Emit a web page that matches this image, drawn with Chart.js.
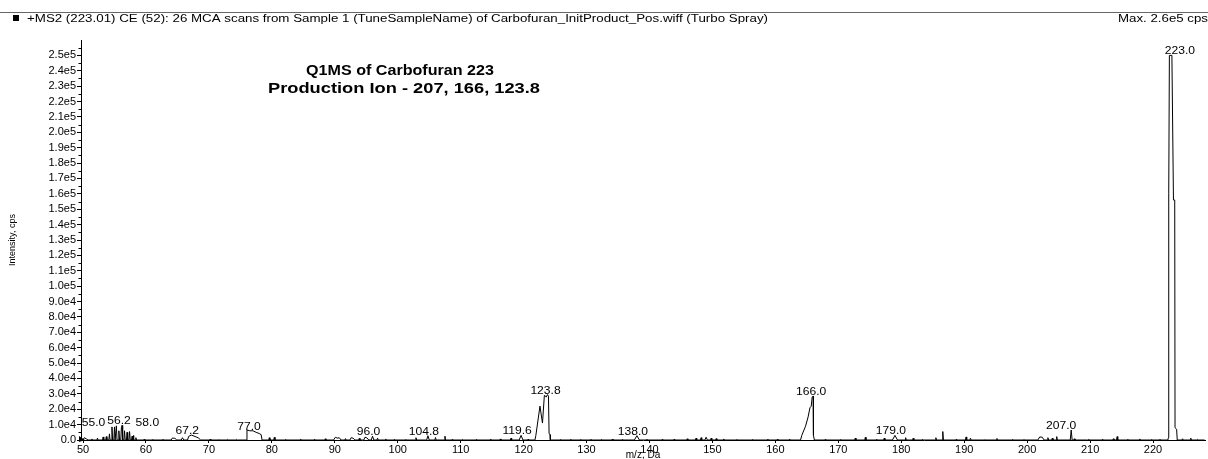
<!DOCTYPE html>
<html><head><meta charset="utf-8">
<script src="https://cdn.jsdelivr.net/npm/chart.js@4/dist/chart.umd.min.js"></script>
<style>html,body{margin:0;padding:0;background:#fff}#wrap{width:1208px;height:459px;position:relative;background:#fff}</style>
</head><body><div id="wrap"><canvas id="c" width="1208" height="459"></canvas></div>
<script>
// ---- data (m/z in Da, intensity in cps) ----
const mz = [
  50.0,50.2,50.5,50.8, 51.3,51.4,51.5, 52.2,52.3,52.4, 53.1,53.2,53.3, 53.6,53.7,53.8,
  54.1,54.2,54.3, 54.5,54.6,54.7, 54.9,55.0,55.1, 55.2,55.3,55.4, 55.6,55.7,55.8,
  56.0,56.1,56.2,56.3, 56.5,56.6,56.7, 56.9,57.0,57.1, 57.3,57.4,57.5, 57.7,57.8,57.9,
  57.95,58.0,58.1, 58.3,58.4,58.5,
  59.6,59.7,59.8, 61.0,61.1,61.2, 62.6,62.7,62.8, 64.0,64.2,64.6,64.9, 65.6,65.8,66.0,
  66.6,66.8,67.2,67.8,68.3,68.7, 70.1,70.2,70.3, 71.5,71.6,71.7, 72.9,73.0,73.1, 74.3,74.4,74.5,
  75.95,76.05,76.5,77.0,77.5,78.0,78.3,78.45, 79.5,79.6,79.7, 80.3,80.4,80.5,
  82.0,82.1,82.2, 84.4,84.5,84.6, 86.7,86.8,86.9, 88.4,88.5,88.6,
  89.8,90.1,90.4,90.7,91.0, 91.6,91.7,91.8, 92.4,92.6,92.9,93.2, 93.8,93.9,94.0,
  94.6,94.8,95.1,95.4, 95.8,96.0,96.2, 96.7,96.8,96.9, 98.0,98.1,98.2, 99.4,99.5,99.6,
  101.2,101.3,101.4, 102.8,102.9,103.0, 104.6,104.8,105.0, 105.9,106.0,106.1, 107.4,107.5,107.6,
  108.6,108.7,108.8, 110.2,110.3,110.4, 112.4,112.5,112.6, 114.6,114.7,114.8, 116.2,116.3,116.4,
  117.9,118.0,118.1, 119.3,119.6,119.9, 120.6,120.7,120.8,
  121.8,121.95,122.0,122.6,123.0,123.3,123.6,123.8,123.95,124.05,124.2,124.25,
  125.8,125.9,126.0, 127.4,127.5,127.6, 129.0,129.1,129.2, 130.6,130.7,130.8, 132.3,132.4,132.5,
  134.0,134.1,134.2, 135.6,135.7,135.8, 137.6,138.0,138.4, 139.5,139.6,139.7, 141.9,142.0,142.1,
  143.8,143.9,144.0, 145.9,146.0,146.1, 147.3,147.4,147.5, 148.1,148.2,148.3, 148.8,149.0,149.2,
  149.7,149.8,149.9, 150.5,150.6,150.7, 151.7,151.8,151.9, 153.8,153.9,154.0, 156.3,156.4,156.5,
  158.7,158.8,158.9, 160.2,160.3,160.4, 162.1,162.2,162.3,
  164.0,164.2,164.8,165.2,165.5,165.7,165.85,166.0,166.05,166.2,
  167.8,167.9,168.0, 170.3,170.4,170.5, 172.6,172.7,172.8, 174.2,174.3,174.4, 176.0,176.1,176.2,
  177.2,177.3,177.4, 178.6,179.0,179.4, 180.6,180.7,180.8, 181.8,181.9,182.0, 183.3,183.4,183.5,
  185.4,185.5,185.6, 186.5,186.6,186.7, 188.6,188.7,188.8, 190.2,190.3,190.4, 190.9,191.0,191.1,
  193.2,193.3,193.4, 195.1,195.2,195.3, 197.5,197.6,197.7, 199.4,199.5,199.6,
  201.7,202.0,202.4,202.7, 203.2,203.3,203.4, 203.9,204.0,204.1, 204.6,204.7,204.8,
  206.85,207.0,207.15, 207.4,207.5,207.6, 209.6,209.7,209.8, 211.8,211.9,212.0,
  213.6,213.7,213.8, 214.2,214.3,214.4, 215.9,216.0,216.1, 217.8,217.9,218.0, 219.7,219.8,219.9,
  221.0,221.1,221.2,
  222.35,222.45,222.5,222.6,223.0,223.25,223.45,223.5,223.75,223.85,
  224.6,224.7,224.8, 225.9,226.0,226.1, 227.0,227.1,227.2, 228.2
];
const intensity = [
  0,1500,800,0, 0,700,0, 0,1200,0, 0,2000,0, 0,2200,0,
  0,4000,0, 0,8500,0, 0,8500,0, 0,9200,0, 0,6000,0,
  0,8000,9500,0, 0,6000,0, 0,5000,0, 0,5500,0, 0,2500,0,
  0,3000,0, 0,1500,0,
  0,500,0, 0,400,0, 0,500,0, 0,1300,1100,0, 0,1500,0,
  0,2400,3200,2300,1400,0, 0,600,0, 0,300,0, 0,400,0, 0,400,0,
  0,6500,6000,6000,5000,4200,3500,0, 0,1500,0, 0,1800,0,
  0,300,0, 0,400,0, 0,500,0, 0,800,0,
  0,1800,1200,1500,0, 0,900,0, 0,1500,1200,0, 0,1100,0,
  0,1800,1400,0, 0,2500,0, 0,1200,0, 0,700,0, 0,500,0,
  0,400,0, 0,1500,0, 0,2800,0, 0,1600,0, 0,2500,0,
  0,600,0, 0,400,0, 0,500,0, 0,400,0, 0,700,0,
  0,1200,0, 0,3000,0, 0,500,0,
  0,3000,4500,22000,11000,29000,28000,29500,28500,4000,3500,0,
  0,400,0, 0,500,0, 0,400,0, 0,500,0, 0,400,0,
  0,600,0, 0,500,0, 0,2800,0, 0,500,0, 0,400,0,
  0,500,0, 0,800,0, 0,1200,0, 0,1500,0, 0,1800,0,
  0,1200,0, 0,900,0, 0,700,0, 0,400,0, 0,400,0,
  0,600,0, 0,500,0, 0,400,0,
  0,3000,9000,15000,21000,22000,28000,28500,3000,0,
  0,400,0, 0,400,0, 0,1300,0, 0,1800,0, 0,500,0,
  0,1200,0, 0,3000,0, 0,1500,0, 0,1200,0, 0,400,0,
  0,1500,0, 0,5500,0, 0,400,0, 0,2000,0, 0,1200,0,
  0,300,0, 0,1000,0, 0,300,0, 0,400,0,
  0,2000,1800,0, 0,1500,0, 0,1200,0, 0,2200,0,
  0,6500,0, 0,800,0, 0,300,0, 0,400,0,
  0,800,0, 0,2200,0, 0,500,0, 0,700,0, 0,400,0,
  0,500,0,
  0,1500,160000,250000,250000,156000,156000,8000,7000,0,
  0,800,0, 0,1200,0, 0,400,0, 0
];
const peakLabels = ['55.0','56.2','58.0','67.2','77.0','96.0','104.8','119.6','123.8','138.0','166.0','179.0','207.0','223.0'];
const peakMz = [55.0,56.2,58.0,67.2,77.0,96.0,104.8,119.6,123.8,138.0,166.0,179.0,207.0,223.0];
const peakIntensity = [8500,9500,3000,3200,6000,2500,2800,3000,29500,2800,28500,3000,6500,250000];
const xTicks = [50,60,70,80,90,100,110,120,130,140,150,160,170,180,190,200,210,220];
const yTicks = [0,10000,20000,30000,40000,50000,60000,70000,80000,90000,100000,110000,120000,130000,
  140000,150000,160000,170000,180000,190000,200000,210000,220000,230000,240000,250000];
const headerText = '+MS2 (223.01) CE (52): 26 MCA scans from Sample 1 (TuneSampleName) of Carbofuran_InitProduct_Pos.wiff (Turbo Spray)';
const maxText = 'Max. 2.6e5 cps';
const titleLines = ['Q1MS of Carbofuran 223', 'Production Ion - 207, 166, 123.8'];
const xTitle = 'm/z, Da';
const yTitle = 'Intensity, cps';

// ---- styling ----
const FONT = '"Liberation Sans", Arial, sans-serif';
const labelShift = {'55.0':[-21,0], '56.2':[-3,0], '58.0':[14,-8], '123.8':[-2,0], '166.0':[-2,0], '207.0':[-10,0], '223.0':[8,0]};

function stretchedText(ctx, text, x, y, width, align) {
  const w = ctx.measureText(text).width;
  const s = width / w;
  ctx.save();
  let x0 = x;
  if (align === 'center') x0 = x - width / 2;
  ctx.translate(x0, y);
  ctx.scale(s, 1);
  ctx.textAlign = 'left';
  ctx.fillText(text, 0, 0);
  ctx.restore();
}

const decor = {
  id: 'decor',
  afterDraw(chart) {
    const {ctx, scales: {x, y}} = chart;
    ctx.save();
    ctx.fillStyle = '#000';
    ctx.strokeStyle = '#000';
    ctx.lineWidth = 1;
    // minor y ticks
    ctx.beginPath();
    for (let v = 5000; v < 260000; v += 10000) {
      const py = Math.round(y.getPixelForValue(v)) + 0.5;
      ctx.moveTo(x.left - 2.5, py); ctx.lineTo(x.left, py);
    }
    ctx.stroke();
    // origin marker
    const ox = x.left, oy = y.getPixelForValue(0);
    ctx.beginPath();
    ctx.moveTo(ox - 2, oy - 4); ctx.lineTo(ox + 4, oy); ctx.lineTo(ox - 2, oy + 2); ctx.closePath();
    ctx.fill();
    // peak labels
    ctx.font = '11px ' + FONT;
    ctx.textBaseline = 'alphabetic';
    ctx.textAlign = 'center';
    peakLabels.forEach((t, i) => {
      const sh = labelShift[t] || [-4, 0];
      const px = x.getPixelForValue(peakMz[i]) + sh[0];
      const py = y.getPixelForValue(peakIntensity[i]) - 1 + sh[1];
      stretchedText(ctx, t, px, py, ctx.measureText(t).width * 1.1, 'center');
    });
    // title block
    ctx.font = 'bold 14px ' + FONT;
    stretchedText(ctx, titleLines[0], 400, 75, 188, 'center');
    stretchedText(ctx, titleLines[1], 404, 93, 272, 'center');
    // header
    ctx.fillStyle = '#000';
    ctx.fillRect(13, 15, 6, 6);
    ctx.strokeStyle = '#666';
    ctx.beginPath(); ctx.moveTo(0, 12.5); ctx.lineTo(1208, 12.5); ctx.stroke();
    ctx.font = '10px ' + FONT;
    stretchedText(ctx, headerText, 27, 22, 741, 'left');
    stretchedText(ctx, maxText, 1118, 22, 90, 'left');
    ctx.restore();
  }
};

const points = mz.map((m, i) => ({x: m, y: intensity[i]}));

new Chart(document.getElementById('c'), {
  type: 'line',
  data: { datasets: [{ data: points, borderColor: '#000', borderWidth: 1, pointRadius: 0, tension: 0, fill: false }] },
  options: {
    responsive: false, animation: false, events: [],
    layout: { padding: { top: 40, right: 3, left: 0, bottom: 0 } },
    plugins: { legend: { display: false }, tooltip: { enabled: false } },
    scales: {
      x: {
        type: 'linear', min: 49.68, max: 228.26,
        afterBuildTicks: s => { s.ticks = xTicks.map(v => ({value: v})); },
        afterFit: s => { s.height = 19; },
        ticks: { color: '#000', font: { family: FONT, size: 11 }, padding: 0, maxRotation: 0, autoSkip: false },
        grid: { display: true, drawOnChartArea: false, drawTicks: true, tickLength: 3, color: '#000' },
        border: { color: '#000', width: 1 },
        title: { display: true, text: xTitle, color: '#000', font: { family: FONT, size: 10, lineHeight: 0.8 }, padding: 0 }
      },
      y: {
        type: 'linear', min: 0, max: 260000,
        afterBuildTicks: s => { s.ticks = yTicks.map(v => ({value: v})); },
        afterFit: s => { s.width = 81; },
        ticks: { color: '#000', font: { family: FONT, size: 11 }, padding: 1, autoSkip: false,
          callback: v => v === 0 ? '0.0' : v.toExponential(1).replace('e+', 'e') },
        grid: { display: true, drawOnChartArea: false, drawTicks: true, tickLength: 4, color: '#000' },
        border: { color: '#000', width: 1 },
        title: { display: true, text: yTitle, color: '#000', font: { family: FONT, size: 9 }, padding: { top: 7, bottom: 0 } }
      }
    }
  },
  plugins: [decor]
});
</script>
</body></html>
